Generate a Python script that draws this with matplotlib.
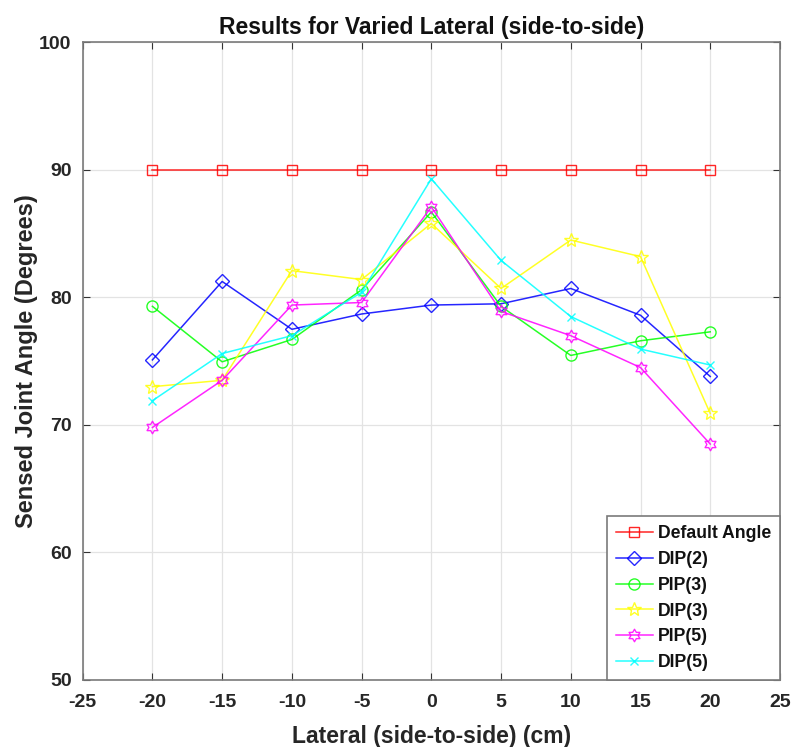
import numpy as np
import matplotlib
matplotlib.use("Agg")
import matplotlib.pyplot as plt
from matplotlib.path import Path

plt.rcParams['font.family'] = ['Liberation Sans', 'DejaVu Sans']
plt.rcParams['axes.unicode_minus'] = False

x = [-20, -15, -10, -5, 0, 5, 10, 15, 20]
default_angle = [90, 90, 90, 90, 90, 90, 90, 90, 90]
dip2 = [75.1, 81.25, 77.5, 78.7, 79.4, 79.5, 80.7, 78.6, 73.8]
pip3 = [79.3, 74.95, 76.7, 80.6, 86.7, 79.3, 75.45, 76.6, 77.3]
dip3 = [73.0, 73.5, 82.1, 81.4, 85.8, 80.7, 84.5, 83.2, 70.9]
pip5 = [69.8, 73.5, 79.4, 79.6, 87.1, 78.9, 77.0, 74.5, 68.5]
dip5 = [71.9, 75.6, 77.0, 80.4, 89.3, 82.9, 78.5, 75.95, 74.7]

labels = ['Default Angle', 'DIP(2)', 'PIP(3)', 'DIP(3)', 'PIP(5)', 'DIP(5)']

# hexagram marker
ang = np.deg2rad(90 + 30 * np.arange(12))
rad = np.where(np.arange(12) % 2 == 0, 1.0, 1 / np.sqrt(3))
verts = list(zip(rad * np.cos(ang), rad * np.sin(ang)))
verts.append(verts[0])
hexagram = Path(verts, closed=True)

fig = plt.figure(figsize=(7.92, 7.47), dpi=100)
ax = fig.add_axes([0.1044, 0.0897, 0.8804, 0.8536])

series = [
    (default_angle, '#FF0000', 's', 7),
    (dip2, '#0000FF', 'D', 7),
    (pip3, '#00FF00', 'o', 8),
    (dip3, '#FFFF00', '*', 10),
    (pip5, '#FF00FF', hexagram, 9),
    (dip5, '#00FFFF', 'x', 6),
]
for (vals, c, m, ms), lab in zip(series, labels):
    ax.plot(x, vals, color=c, marker=m, markersize=ms, markerfacecolor='none',
            markeredgecolor=c, linewidth=1.1, markeredgewidth=1.0, label=lab, alpha=0.85)

ax.set_xlim(-25, 25)
ax.set_ylim(50, 100)
ax.set_xticks(np.arange(-25, 26, 5))
ax.set_yticks(np.arange(50, 101, 10))
ax.grid(True, color='#e3e3e3', linewidth=0.9)
ax.set_axisbelow(True)
for s in ax.spines.values():
    s.set_color('#7a7a7a')
    s.set_linewidth(1.2)
ax.tick_params(direction='in', top=True, right=True, length=5, color='#333333',
               labelsize=14)
ax.tick_params(axis='x', pad=10)
ax.tick_params(axis='y', pad=8)
for lab in ax.get_xticklabels() + ax.get_yticklabels():
    lab.set_fontweight('bold')
    lab.set_color('#262626')

ax.set_title('Results for Varied Lateral (side-to-side)', fontsize=16.5, fontweight='bold',
             color='#111111', pad=6)
ax.set_xlabel('Lateral (side-to-side) (cm)', fontsize=16.5, fontweight='bold',
              color='#262626', labelpad=10)
ax.set_ylabel('Sensed Joint Angle (Degrees)', fontsize=17, fontweight='bold',
              color='#262626', labelpad=1)

leg = ax.legend(loc='lower right', borderaxespad=0, fancybox=False, framealpha=1,
                prop={'weight': 'bold', 'size': 12.7}, handlelength=2.1,
                labelspacing=0.5, handletextpad=0.3, borderpad=0.5)
leg.get_frame().set_edgecolor('#7a7a7a')
leg.get_frame().set_linewidth(1.2)
for t in leg.get_texts():
    t.set_color('#111111')

fig.savefig('out.png', dpi=100)
